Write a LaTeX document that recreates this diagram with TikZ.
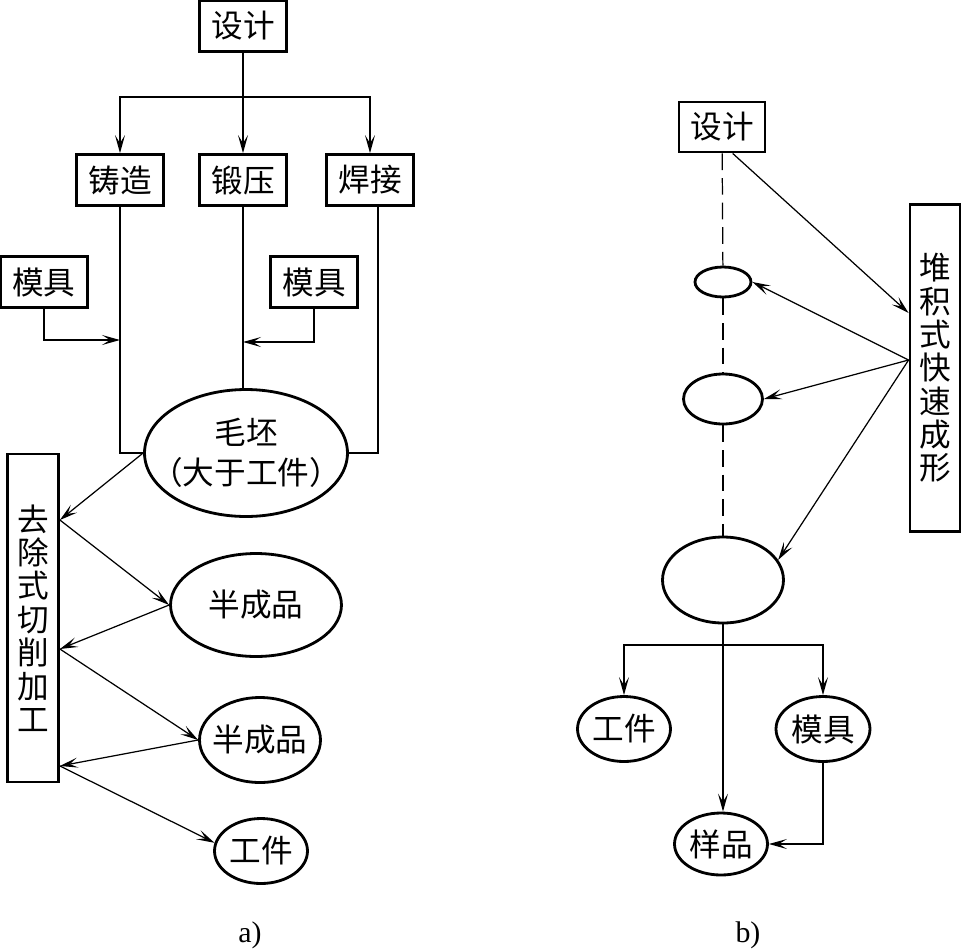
\documentclass[tikz,border=0pt]{standalone}
\usepackage{fontspec}
\setmainfont{Liberation Serif}
\newfontfamily\cjk{Noto Sans CJK SC}
\usetikzlibrary{shapes.geometric, arrows.meta, positioning}

\begin{document}
\begin{tikzpicture}[
    x=0.02cm, y=-0.02cm,
    stagebox/.style={rectangle, draw, line width=1.6pt, minimum width=1.74cm,
                     minimum height=1.02cm, inner sep=0pt, font=\cjk\fontsize{18}{20}\selectfont},
    procbox/.style={rectangle, draw, line width=1.6pt, minimum width=1.02cm,
                    minimum height=#1, inner sep=0pt, align=center, font=\cjk\fontsize{18}{19}\selectfont},
    blob/.style={ellipse, draw, line width=1.6pt, inner sep=0pt, inner xsep=-4pt,
                 font=\cjk\fontsize{18}{20}\selectfont},
    arrow/.style={-{Stealth[length=3.6mm, width=2mm, inset=1.6mm]}, line width=0.7pt},
    link/.style={line width=0.7pt},
    dashlink/.style={line width=0.7pt, dash pattern=on 9.5pt off 4.5pt},
    caption/.style={font=\fontsize{17}{20}\selectfont}
]
    \useasboundingbox (0,0) rectangle (961,951);

    % a) conventional route
    \node[stagebox] (designA) at (243,26) {设计};
    \node[stagebox] (cast) at (120,180) {铸造};
    \node[stagebox] (forge) at (243,180) {锻压};
    \node[stagebox] (weld) at (370,180) {焊接};
    \node[stagebox] (moldA) at (44,282) {模具};
    \node[stagebox] (moldB) at (314,282) {模具};
    \node[blob, minimum width=4.06cm, minimum height=2.54cm] (blank) at (246,453) {};
    \node[font=\cjk\fontsize{18}{22.7}\selectfont, align=center] (blanktext) at (blank) {毛坯\\（大于工件）};
    \node[procbox=6.56cm] (cutting) at (33,618) {去\\除\\式\\切\\削\\加\\工};
    \node[blob, minimum width=3.42cm, minimum height=2.06cm] (semiA) at (256,605) {半成品};
    \node[blob, minimum width=2.42cm, minimum height=1.7cm] (semiB) at (260,740) {半成品};
    \node[blob, minimum width=1.86cm, minimum height=1.3cm] (partA) at (261,851) {工件};
    \node[caption] (capA) at (250,935) {a)};

    \coordinate (split) at (243,97);
    \coordinate (castjoin) at (120,340);
    \coordinate (forgejoin) at (243,342);
    \coordinate (cut1) at ([yshift=1.96cm]cutting.east);
    \coordinate (cut2) at ([yshift=-0.62cm]cutting.east);
    \coordinate (cut3) at ([yshift=-2.96cm]cutting.east);

    \draw[link] (designA) -- (split);
    \draw[arrow] (split) -| (cast);
    \draw[arrow] (split) -- (forge);
    \draw[arrow] (split) -| (weld);
    \draw[link] (cast) |- (blank);
    \draw[link] (forge) -- (forge |- blank.north);
    \draw[link] ([xshift=0.16cm]weld.south) |- (blank);
    \draw[arrow] (moldA) |- (castjoin);
    \draw[arrow] (moldB) |- (forgejoin);
    \draw[arrow] (blank.west) -- (cut1);
    \draw[arrow] (cut1) -- (semiA.west);
    \draw[arrow] (semiA.west) -- (cut2);
    \draw[arrow] (cut2) -- (semiB.west);
    \draw[arrow] (semiB.west) -- (cut3);
    \draw[arrow] (cut3) -- (partA.170);

    % b) additive route
    \node[stagebox, minimum width=1.72cm, minimum height=1.0cm] (designB) at (722,127) {设计};
    \node[procbox=6.54cm, minimum width=1.0cm] (additive) at (935,368) {堆\\积\\式\\快\\速\\成\\形};
    \node[blob, minimum width=1.12cm, minimum height=0.6cm] (layerA) at (723,282) {};
    \node[blob, minimum width=1.58cm, minimum height=1.0cm] (layerB) at (723,399) {};
    \node[blob, minimum width=2.42cm, minimum height=1.72cm] (layerC) at (723,580) {};
    \node[blob, minimum width=1.86cm, minimum height=1.3cm] (partB) at (624,729) {工件};
    \node[blob, minimum width=1.88cm, minimum height=1.3cm] (moldC) at (823,729) {模具};
    \node[blob, minimum width=1.86cm, minimum height=1.24cm] (sample) at (721,844) {样品};
    \node[caption] (capB) at (748,935) {b)};

    \coordinate (addin) at ([yshift=1.1cm]additive.west);
    \coordinate (addout) at ([yshift=0.16cm]additive.west);
    \coordinate (fork) at (723,645);

    \draw[dashlink] (designB) -- (layerA);
    \draw[dashlink] (layerA) -- (layerB);
    \draw[dashlink] (layerB) -- (layerC);
    \draw[arrow] (designB.-68) -- (addin);
    \draw[arrow] (addout) -- (layerA.east);
    \draw[arrow] (addout) -- (layerB.east);
    \draw[arrow] (addout) -- (layerC.20);
    \draw[arrow] (layerC.south) -- (layerC.south |- sample.north);
    \draw[arrow] (fork) -| (partB);
    \draw[arrow] (fork) -| (moldC);
    \draw[arrow] (moldC) |- (sample);
\end{tikzpicture}
\end{document}
